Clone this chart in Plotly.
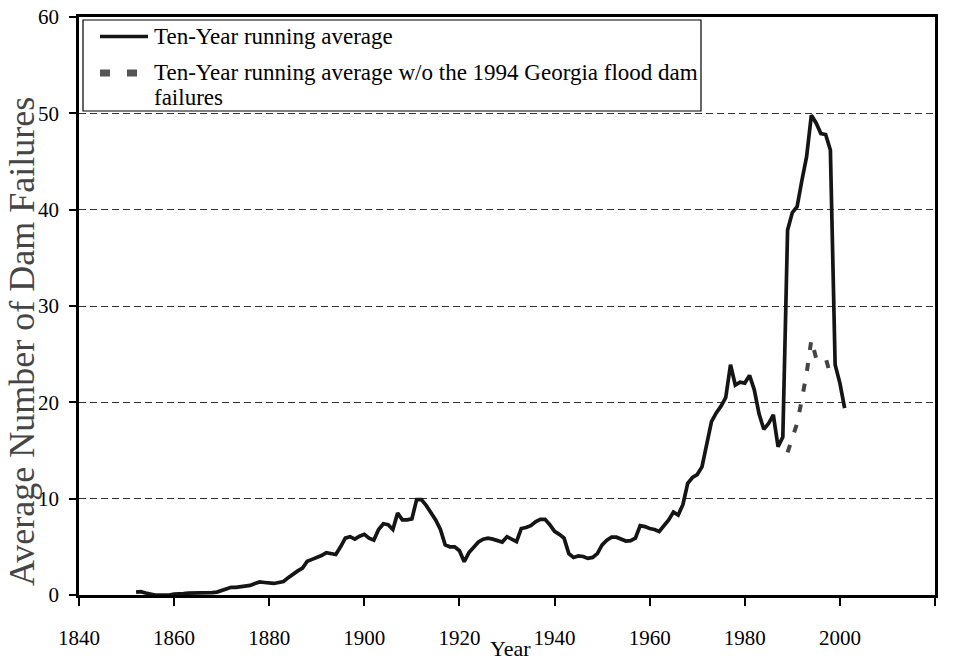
import plotly.graph_objects as go

# ---------------- data ----------------
years = list(range(1852, 2002))
running_avg = [
    0.3, 0.35, 0.2, 0.1, 0.0, 0.0, 0.0, 0.0, 0.1, 0.1,          # 1852-1861
    0.15, 0.2, 0.2, 0.2, 0.2, 0.2, 0.25, 0.3, 0.5, 0.7,         # 1862-1871
    0.8, 0.8, 0.85, 0.9, 1.0, 1.2, 1.35, 1.3, 1.25, 1.2,        # 1872-1881
    1.3, 1.4, 1.8, 2.2, 2.5, 2.8, 3.5, 3.7, 3.85, 4.1,          # 1882-1891
    4.4, 4.3, 4.2, 5.0, 5.9, 6.05, 5.8, 6.1, 6.3, 5.9,          # 1892-1901
    5.7, 6.8, 7.4, 7.3, 6.8, 8.5, 7.8, 7.8, 7.9, 9.9,           # 1902-1911
    9.9, 9.3, 8.6, 7.8, 6.8, 5.2, 5.0, 5.0, 4.6, 3.45,          # 1912-1921
    4.4, 5.0, 5.5, 5.8, 5.9, 5.8, 5.6, 5.5, 6.05, 5.8,          # 1922-1931
    5.55, 6.9, 7.0, 7.2, 7.6, 7.85, 7.85, 7.3, 6.6, 6.3,        # 1932-1941
    5.9, 4.3, 3.9, 4.05, 4.0, 3.8, 3.9, 4.3, 5.2, 5.7,          # 1942-1951
    6.0, 6.0, 5.8, 5.6, 5.65, 5.9, 7.2, 7.1, 6.9, 6.8,          # 1952-1961
    6.6, 7.2, 7.8, 8.6, 8.3, 9.4, 11.6, 12.2, 12.5, 13.3,       # 1962-1971
    15.5, 18.0, 18.9, 19.6, 20.5, 23.9, 21.8, 22.1, 22.0, 22.8, # 1972-1981
    21.3, 18.8, 17.2, 17.8, 18.7, 15.4, 16.4, 37.9, 39.7, 40.3, # 1982-1991
    43.0, 45.5, 49.8, 49.0, 47.9, 47.8, 46.2, 23.9, 22.0, 19.4, # 1992-2001
]

years_wo = list(range(1989, 1999))
running_avg_wo = [14.8, 16.3, 17.8, 20.3, 23.0, 26.5, 24.6, 24.4, 24.6, 22.9]

x_ticks = list(range(1840, 2021, 20))
y_ticks = list(range(0, 61, 10))

name_solid = "Ten-Year running average"
name_dot = "Ten-Year running average w/o the 1994 Georgia flood dam failures"

FONT = "Liberation Serif"

fig = go.Figure()
fig.add_trace(go.Scatter(
    x=years, y=running_avg, mode="lines", name=name_solid,
    line=dict(color="#151515", width=3.7), showlegend=False,
))
fig.add_trace(go.Scatter(
    x=years_wo, y=running_avg_wo, mode="lines", name=name_dot,
    line=dict(color="#444444", width=4, dash="8px,13px"), showlegend=False,
))

# plot area geometry in pixels (for legend/annotation placement)
L, R, T, B = 79, 935, 17, 595
W, H = R - L, B - T
def px(x):
    return (x - L) / W
def py(y):
    return (B - y) / H

shapes = [
    # legend box
    dict(type="rect", xref="paper", yref="paper",
         x0=px(83), x1=px(701), y0=py(111), y1=py(20),
         line=dict(color="black", width=1.2), fillcolor="white", layer="above"),
    # solid sample
    dict(type="line", xref="paper", yref="paper",
         x0=px(100), x1=px(148), y0=py(36.5), y1=py(36.5),
         line=dict(color="#151515", width=3.7), layer="above"),
    # dotted sample
    dict(type="line", xref="paper", yref="paper",
         x0=px(100), x1=px(137), y0=py(73), y1=py(73),
         line=dict(color="#555555", width=7, dash="10px,17px"), layer="above"),
]

LEG_SIZE = 23
annotations = [
    dict(text=name_solid, xref="paper", yref="paper", x=px(152), y=py(37),
         xanchor="left", yanchor="middle", showarrow=False,
         font=dict(family=FONT, size=LEG_SIZE, color="black")),
    dict(text="Ten-Year running average w/o the 1994 Georgia flood dam",
         xref="paper", yref="paper", x=px(152), y=py(72),
         xanchor="left", yanchor="middle", showarrow=False,
         font=dict(family=FONT, size=LEG_SIZE, color="black")),
    dict(text="failures", xref="paper", yref="paper", x=px(152), y=py(97),
         xanchor="left", yanchor="middle", showarrow=False,
         font=dict(family=FONT, size=LEG_SIZE, color="black")),
    dict(text="Average Number of Dam Failures", xref="paper", yref="paper",
         x=px(22), y=py(342), xanchor="center", yanchor="middle",
         textangle=-90, showarrow=False,
         font=dict(family=FONT, size=36, color="#454545")),
    dict(text="Year", xref="paper", yref="paper", x=px(510), y=py(648),
         xanchor="center", yanchor="middle", showarrow=False,
         font=dict(family=FONT, size=22, color="black")),
]

fig.update_layout(
    width=954, height=664, autosize=False,
    margin=dict(l=L, r=954 - R, t=T, b=664 - B, pad=0, autoexpand=False),
    paper_bgcolor="white", plot_bgcolor="white",
    showlegend=False,
    shapes=shapes, annotations=annotations,
    font=dict(family=FONT, size=21, color="black"),
)
fig.update_xaxes(
    range=[1840, 2020], tickvals=x_ticks, ticktext=[str(v) for v in x_ticks],
    showgrid=False, zeroline=False,
    showline=True, linecolor="black", linewidth=2.5, mirror=True,
    ticks="outside", ticklen=8, tickwidth=1.5, tickcolor="black",
    tickfont=dict(family=FONT, size=21, color="black"),
    ticklabelstandoff=14,
)
fig.update_yaxes(
    range=[0, 60], tickvals=y_ticks, ticktext=[str(v) for v in y_ticks],
    showgrid=True, gridcolor="#333333", gridwidth=1, griddash="7px,4px",
    zeroline=False,
    showline=True, linecolor="black", linewidth=2.5, mirror=True,
    ticks="outside", ticklen=7, tickwidth=1.5, tickcolor="black",
    tickfont=dict(family=FONT, size=21, color="black"),
    ticklabelstandoff=6,
)

fig.write_html(
    "out.html",
    config={"displayModeBar": False},
    post_script="document.body.style.margin='0';document.body.style.overflow='hidden';",
)
